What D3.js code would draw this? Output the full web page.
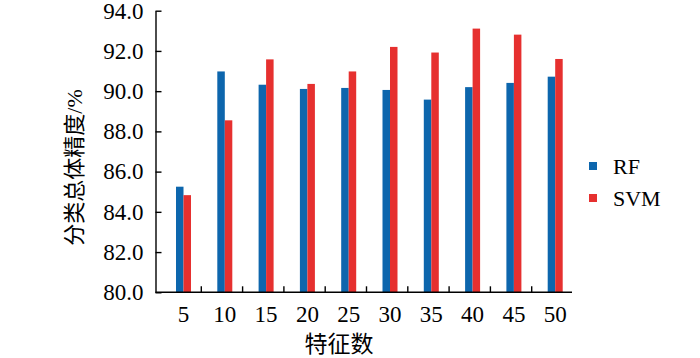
<!DOCTYPE html>
<html>
<head>
<meta charset="utf-8">
<script src="https://cdn.jsdelivr.net/npm/d3@7"></script>
<style>
body{margin:0;background:#fff;}
</style>
</head>
<body>
<script>

// data
var categories = ["5","10","15","20","25","30","35","40","45","50"];
var seriesNames = ["RF","SVM"];
var rfValues  = [85.25, 90.98, 90.32, 90.11, 90.16, 90.06, 89.58, 90.20, 90.41, 90.72];
var svmValues = [84.83, 88.55, 91.58, 90.36, 90.98, 92.20, 91.92, 93.11, 92.81, 91.60];
var yTicks = [80, 82, 84, 86, 88, 90, 92, 94];

var serifFont = "'Liberation Serif', 'DejaVu Serif', 'Times New Roman', serif";
var cjkFont = "'Liberation Serif', 'Noto Sans CJK SC', serif";

var width = 700,
	height = 358;

var svg = d3.select("body").append("svg")
	.attr("width", width)
	.attr("height", height);

var y = d3.scaleLinear().domain([80, 94]).range([292.3, 10.7]);
var x = d3.scaleBand().domain(categories).range([160, 573]);
// bars sit a little right of the band centre in the original
var xs = d3.scaleBand().domain(seriesNames).range([16, 31]);
var color = d3.scaleOrdinal().domain(seriesNames).range(["#0d66ad", "#e6302f"]);

var rows = categories.map(function(c, i){
	return {cat: c, RF: rfValues[i], SVM: svmValues[i]};
});

// bars
var groups = svg.selectAll(".grp")
	.data(rows)
	.enter()
	.append("g")
	.attr("class", "grp")
	.attr("transform", function(d){ return "translate(" + x(d.cat) + ",0)"; });

groups.selectAll("rect")
	.data(function(d){
		return seriesNames.map(function(s){ return {s: s, v: d[s]}; });
	})
	.enter()
	.append("rect")
	.attr("x", function(d){ return xs(d.s); })
	.attr("width", xs.bandwidth())
	.attr("y", function(d){ return y(d.v); })
	.attr("height", function(d){ return y(80) - y(d.v); })
	.attr("fill", function(d){ return color(d.s); });

// y axis, ticks pointing inward
var axisX0 = 155.5;
var yAxis = svg.append("g")
	.attr("transform", "translate(" + axisX0 + ",0)")
	.call(d3.axisLeft(y)
		.tickValues(yTicks)
		.tickFormat(d3.format(".1f"))
		.tickSizeInner(-6)
		.tickSizeOuter(0)
		.tickPadding(12));
yAxis.selectAll("text")
	.style("font-family", serifFont)
	.style("font-size", "23px")
	.attr("fill", "#000");
yAxis.selectAll("path,line").attr("stroke", "#000").attr("stroke-width", 1.4);

// x axis labels at bar centres
var labelShift = (xs.range()[0] + xs.range()[1]) / 2 - x.bandwidth() / 2;
var xAxis = svg.append("g")
	.attr("transform", "translate(" + labelShift + "," + y(80) + ")")
	.call(d3.axisBottom(x).tickSize(0).tickPadding(13));
xAxis.select(".domain").remove();
xAxis.selectAll("text")
	.style("font-family", serifFont)
	.style("font-size", "23px")
	.attr("fill", "#000");

// x axis line and inward ticks between categories
svg.append("line")
	.attr("x1", axisX0).attr("x2", x.range()[1] - 1)
	.attr("y1", y(80)).attr("y2", y(80))
	.attr("stroke", "#000").attr("stroke-width", 1.4);

svg.selectAll(".xtick")
	.data(categories.slice(1))
	.enter()
	.append("line")
	.attr("class", "xtick")
	.attr("x1", function(d){ return x(d); })
	.attr("x2", function(d){ return x(d); })
	.attr("y1", y(80))
	.attr("y2", y(80) - 6)
	.attr("stroke", "#000").attr("stroke-width", 1.4);

// axis titles
svg.append("text")
	.attr("transform", "translate(74,167.5) rotate(-90)")
	.attr("text-anchor", "middle")
	.attr("dominant-baseline", "central")
	.style("font-family", cjkFont)
	.style("font-size", "22px")
	.text("分类总体精度/%");

svg.append("text")
	.attr("x", 339)
	.attr("y", 344.5)
	.attr("text-anchor", "middle")
	.attr("dominant-baseline", "central")
	.style("font-family", cjkFont)
	.style("font-size", "23px")
	.text("特征数");

// legend
var legend = svg.selectAll(".legend")
	.data(seriesNames)
	.enter()
	.append("g")
	.attr("class", "legend")
	.attr("transform", function(d, i){ return "translate(589," + (166 + i * 32) + ")"; });

legend.append("rect")
	.attr("x", 0)
	.attr("y", -4)
	.attr("width", 8)
	.attr("height", 8)
	.attr("fill", function(d){ return color(d); });

legend.append("text")
	.attr("x", 24)
	.attr("y", 8)
	.style("font-family", serifFont)
	.style("font-size", "22px")
	.text(function(d){ return d; });

</script>
</body>
</html>
